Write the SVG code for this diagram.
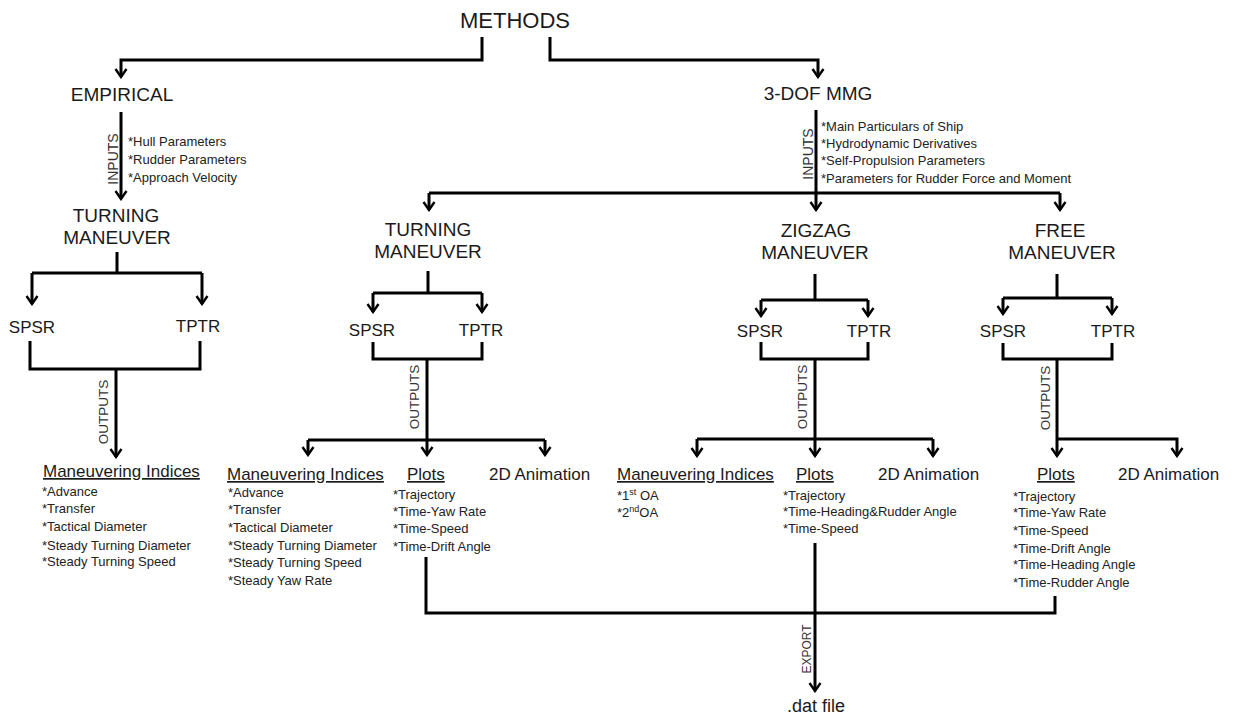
<svg xmlns="http://www.w3.org/2000/svg" width="1235" height="718" viewBox="0 0 1235 718">
<defs>
<marker id="arr" viewBox="-10 -7 12 14" markerWidth="12" markerHeight="14" refX="0" refY="0" orient="auto" markerUnits="userSpaceOnUse">
<path d="M-8,-5.5 L0,0 L-8,5.5" fill="none" stroke="#000" stroke-width="2.4" stroke-linejoin="miter"/>
</marker>
<style>
text{font-family:"Liberation Sans",Arial,sans-serif;fill:#1a1a1a}
.h1{font-size:22px;text-anchor:middle}
.h2{font-size:19px;text-anchor:middle}
.h3{font-size:17px;text-anchor:middle}
.h4{font-size:17px}
.u{text-decoration:underline}
.li{font-size:13px;fill:#222}
.lab{font-size:14px;text-anchor:middle;fill:#333}
.c{fill:none;stroke:#000;stroke-width:3}
.a{fill:none;stroke:#000;stroke-width:3;marker-end:url(#arr)}
</style>
</defs>
<rect width="1235" height="718" fill="#fff"/>

<g id="connectors">
<path class="a" d="M482,37 V60 H121 V77"/>
<path class="a" d="M550,37 V60 H818 V77"/>
<path class="a" d="M121,112 V199"/>
<path class="c" d="M117,252 V273 M32,273 H202"/>
<path class="a" d="M32,273 V304"/>
<path class="a" d="M202,273 V304"/>
<path class="c" d="M30,341 V369 H200 V341"/>
<path class="a" d="M116,369 V457"/>
<path class="a" d="M816,110 V210"/>
<path class="c" d="M429,193 H1060"/>
<path class="a" d="M429,193 V210"/>
<path class="a" d="M1060,193 V210"/>
<path class="c" d="M428,271 V293 M373,293 H482"/>
<path class="a" d="M373,293 V312"/>
<path class="a" d="M482,293 V312"/>
<path class="c" d="M373,342 V359 H482 V342"/>
<path class="a" d="M427,359 V455"/>
<path class="c" d="M308,440 H545"/>
<path class="a" d="M308,440 V455"/>
<path class="a" d="M545,440 V455"/>
<path class="c" d="M815,274 V300 M761,300 H868"/>
<path class="a" d="M761,300 V316"/>
<path class="a" d="M868,300 V316"/>
<path class="c" d="M761,342 V359 H868 V342"/>
<path class="a" d="M815,359 V456"/>
<path class="c" d="M697,439 H933"/>
<path class="a" d="M697,439 V456"/>
<path class="a" d="M933,439 V456"/>
<path class="c" d="M1057,274 V298 M1003,298 H1112"/>
<path class="a" d="M1003,298 V314"/>
<path class="a" d="M1112,298 V314"/>
<path class="c" d="M1003,343 V359 H1112 V343"/>
<path class="a" d="M1057,359 V456"/>
<path class="a" d="M1057,439 H1177 V456"/>
<path class="c" d="M426,557 V613 H1055 V596"/>
<path class="a" d="M815,543 V691"/>
<text class="lab" transform="translate(118,159) rotate(-90)">INPUTS</text>
<text class="lab" transform="translate(813,154) rotate(-90)">INPUTS</text>
<text class="lab" style="font-size:13.5px" transform="translate(108,412) rotate(-90)">OUTPUTS</text>
<text class="lab" style="font-size:13.5px" transform="translate(419,397) rotate(-90)">OUTPUTS</text>
<text class="lab" style="font-size:13.5px" transform="translate(807,397) rotate(-90)">OUTPUTS</text>
<text class="lab" style="font-size:13.5px" transform="translate(1050,398) rotate(-90)">OUTPUTS</text>
<text class="lab" style="font-size:12px" transform="translate(811,649) rotate(-90)">EXPORT</text>
</g>

<g id="methods"><text class="h1" x="515" y="28">METHODS</text></g>
<g id="empirical"><text class="h2" x="122" y="101">EMPIRICAL</text></g>
<g id="empirical-inputs">
<text class="li" x="128" y="146">*Hull Parameters</text>
<text class="li" x="128" y="164">*Rudder Parameters</text>
<text class="li" x="128" y="182">*Approach Velocity</text>
</g>
<g id="mmg"><text class="h2" x="818" y="100">3-DOF MMG</text></g>
<g id="mmg-inputs">
<text class="li" x="821" y="131">*Main Particulars of Ship</text>
<text class="li" x="821" y="148">*Hydrodynamic Derivatives</text>
<text class="li" x="821" y="165">*Self-Propulsion Parameters</text>
<text class="li" x="821" y="183">*Parameters for Rudder Force and Moment</text>
</g>

<g id="emp-turning"><text class="h2" x="116" y="222">TURNING</text><text class="h2" x="117" y="244">MANEUVER</text></g>
<g id="emp-spsr"><text class="h3" x="32" y="333">SPSR</text></g>
<g id="emp-tptr"><text class="h3" x="198" y="332">TPTR</text></g>
<g id="emp-indices">
<text class="h4 u" x="43" y="477">Maneuvering Indices</text>
<text class="li" x="42" y="496">*Advance</text>
<text class="li" x="42" y="513">*Transfer</text>
<text class="li" x="42" y="531">*Tactical Diameter</text>
<text class="li" x="42" y="550">*Steady Turning Diameter</text>
<text class="li" x="42" y="566">*Steady Turning Speed</text>
</g>

<g id="mmg-turning"><text class="h2" x="428" y="236">TURNING</text><text class="h2" x="428" y="258">MANEUVER</text></g>
<g id="turn-spsr"><text class="h3" x="372" y="336">SPSR</text></g>
<g id="turn-tptr"><text class="h3" x="481" y="336">TPTR</text></g>
<g id="turn-indices">
<text class="h4 u" x="227" y="480">Maneuvering Indices</text>
<text class="li" x="228" y="497">*Advance</text>
<text class="li" x="228" y="514">*Transfer</text>
<text class="li" x="228" y="532">*Tactical Diameter</text>
<text class="li" x="228" y="550">*Steady Turning Diameter</text>
<text class="li" x="228" y="567">*Steady Turning Speed</text>
<text class="li" x="228" y="585">*Steady Yaw Rate</text>
</g>
<g id="turn-plots">
<text class="h4 u" x="407" y="480">Plots</text>
<text class="li" x="393" y="499">*Trajectory</text>
<text class="li" x="393" y="516">*Time-Yaw Rate</text>
<text class="li" x="393" y="533">*Time-Speed</text>
<text class="li" x="393" y="551">*Time-Drift Angle</text>
</g>
<g id="turn-anim"><text class="h4" x="489" y="480">2D Animation</text></g>

<g id="zigzag"><text class="h2" x="816" y="237">ZIGZAG</text><text class="h2" x="815" y="259">MANEUVER</text></g>
<g id="zig-spsr"><text class="h3" x="760" y="337">SPSR</text></g>
<g id="zig-tptr"><text class="h3" x="869" y="337">TPTR</text></g>
<g id="zig-indices">
<text class="h4 u" x="617" y="480">Maneuvering Indices</text>
<text class="li" x="617" y="500">*1<tspan font-size="9" dy="-5">st</tspan><tspan dy="5"> OA</tspan></text>
<text class="li" x="617" y="517">*2<tspan font-size="9" dy="-5">nd</tspan><tspan dy="5">OA</tspan></text>
</g>
<g id="zig-plots">
<text class="h4 u" x="796" y="480">Plots</text>
<text class="li" x="783" y="500">*Trajectory</text>
<text class="li" x="783" y="516">*Time-Heading&amp;Rudder Angle</text>
<text class="li" x="783" y="533">*Time-Speed</text>
</g>
<g id="zig-anim"><text class="h4" x="878" y="480">2D Animation</text></g>

<g id="free"><text class="h2" x="1060" y="237">FREE</text><text class="h2" x="1062" y="259">MANEUVER</text></g>
<g id="free-spsr"><text class="h3" x="1003" y="337">SPSR</text></g>
<g id="free-tptr"><text class="h3" x="1113" y="337">TPTR</text></g>
<g id="free-plots">
<text class="h4 u" x="1037" y="480">Plots</text>
<text class="li" x="1013" y="501">*Trajectory</text>
<text class="li" x="1013" y="517">*Time-Yaw Rate</text>
<text class="li" x="1013" y="535">*Time-Speed</text>
<text class="li" x="1013" y="553">*Time-Drift Angle</text>
<text class="li" x="1013" y="569">*Time-Heading Angle</text>
<text class="li" x="1013" y="587">*Time-Rudder Angle</text>
</g>
<g id="free-anim"><text class="h4" x="1118" y="480">2D Animation</text></g>

<g id="dat"><text class="h2" style="font-size:18px" x="816" y="712">.dat file</text></g>
</svg>
